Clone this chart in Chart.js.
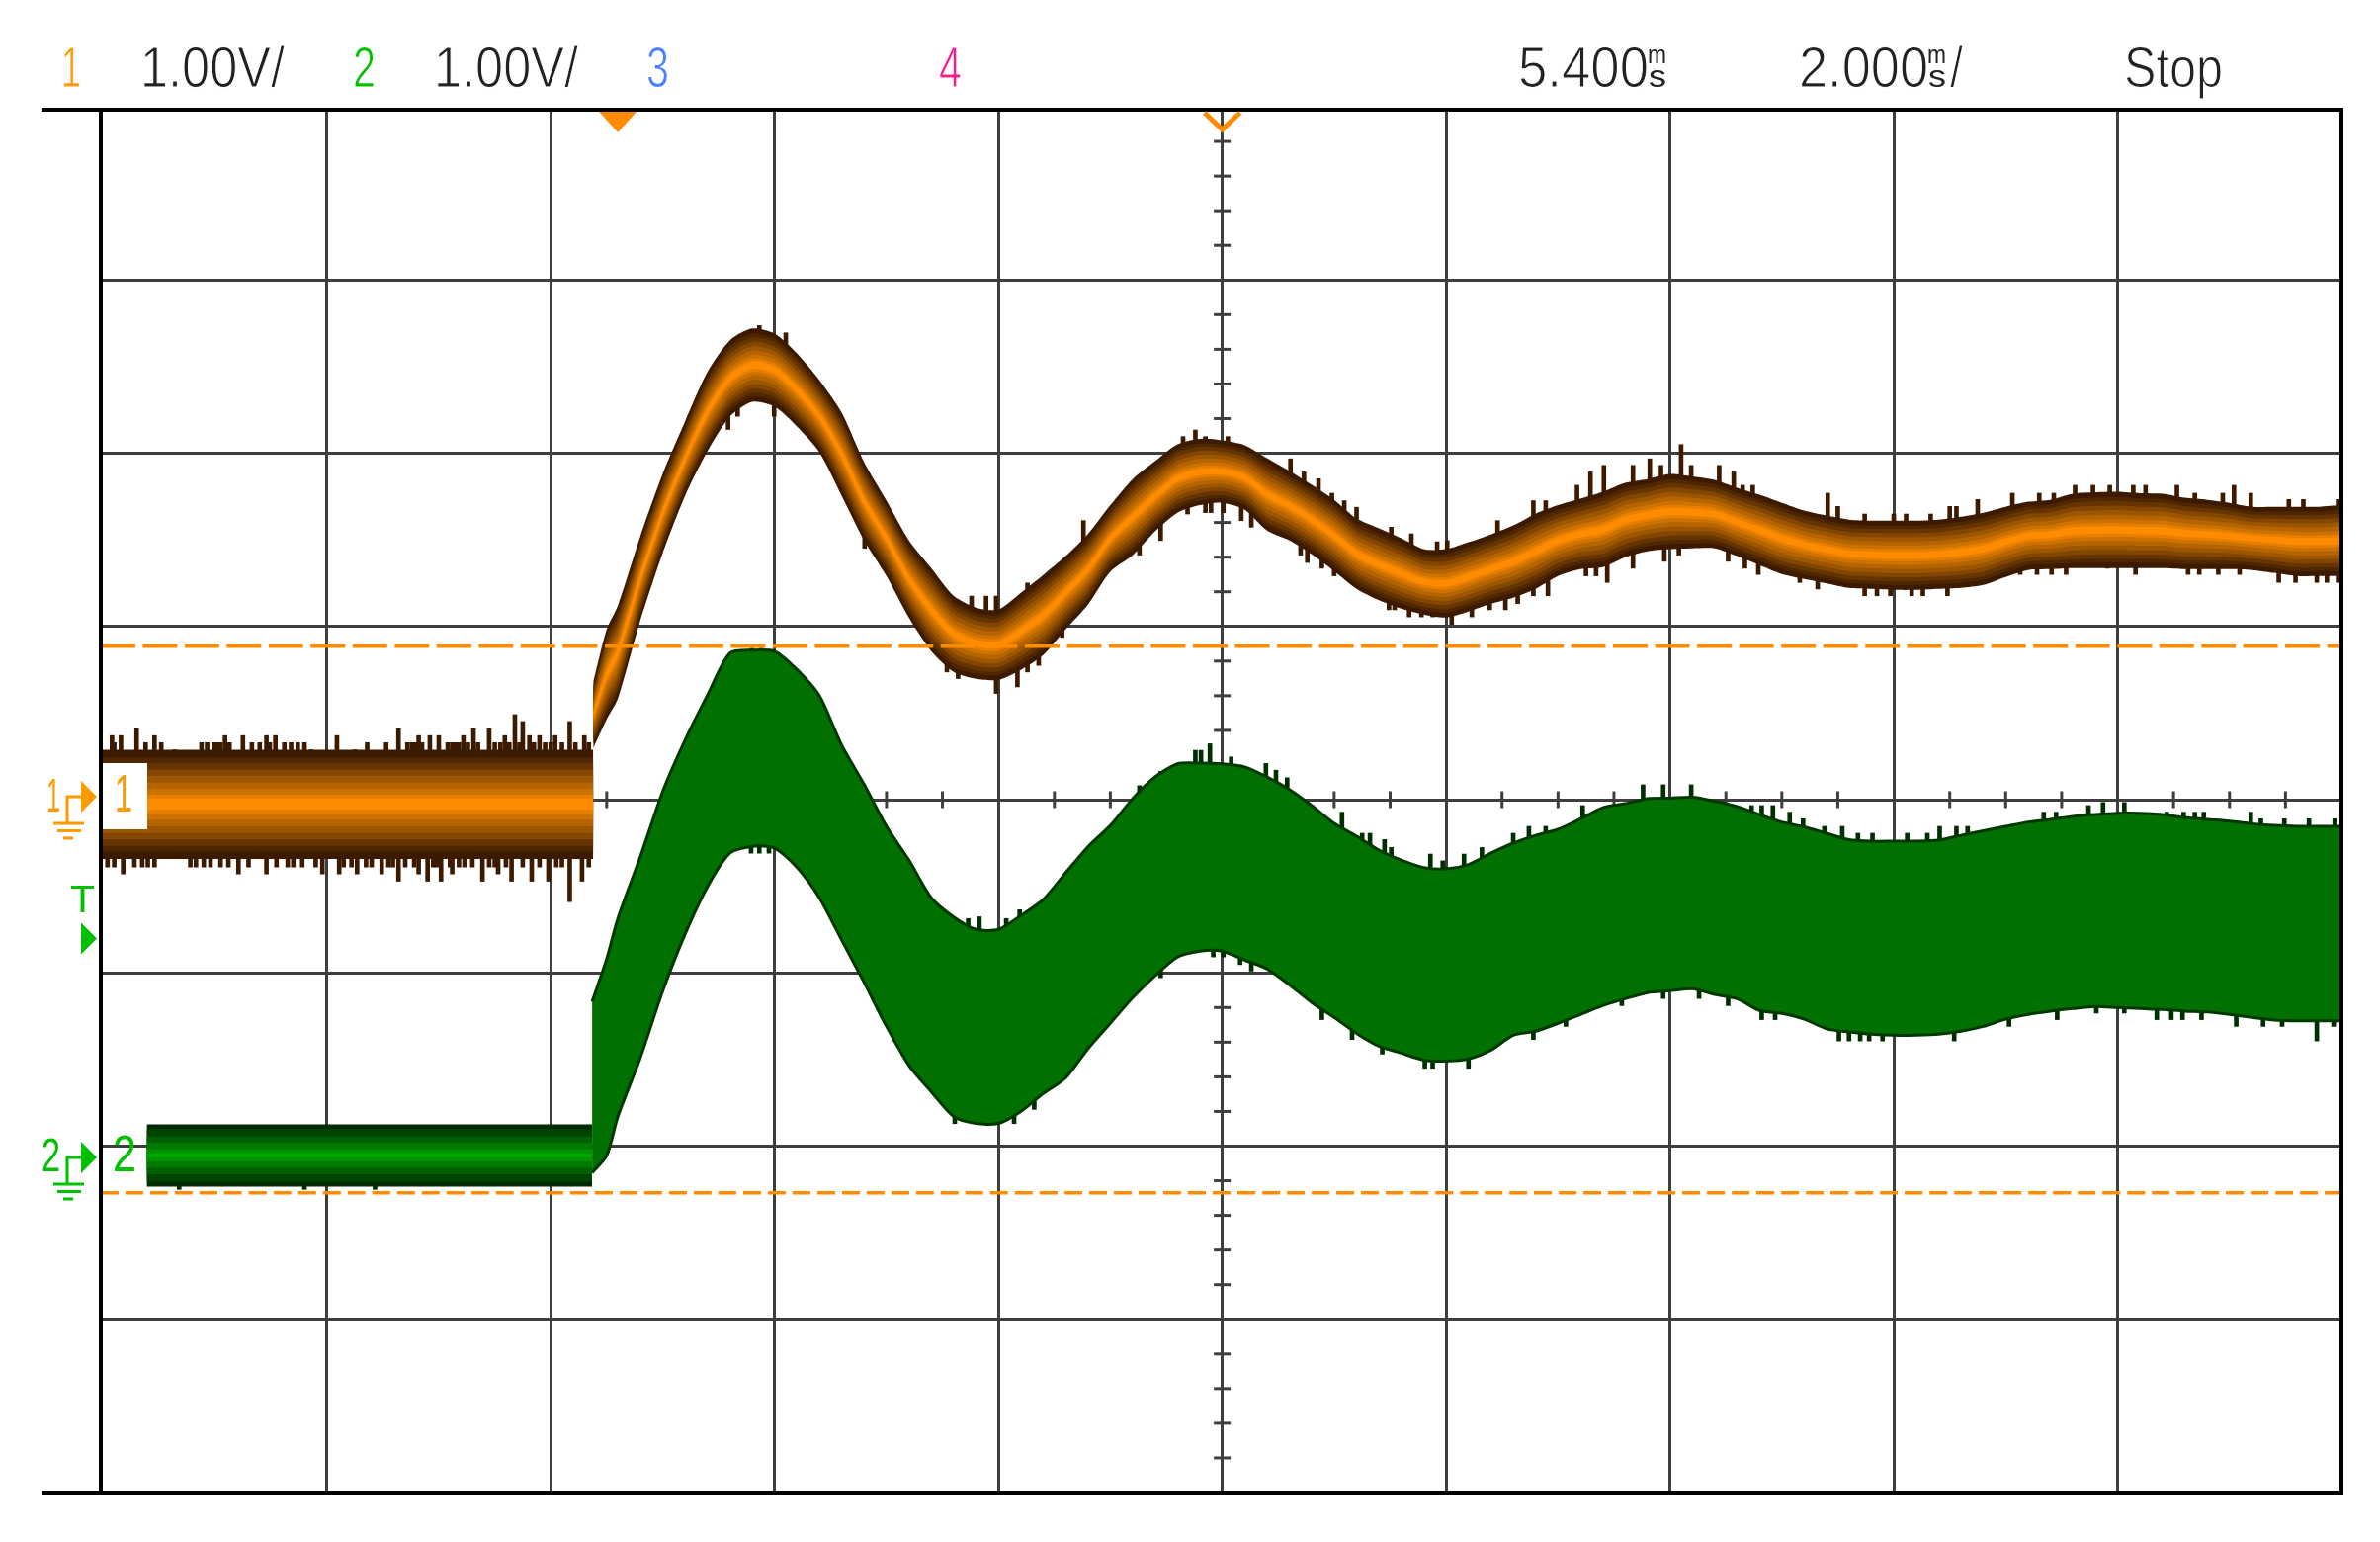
<!DOCTYPE html>
<html>
<head>
<meta charset="utf-8">
<title>Scope capture</title>
<script src="https://cdn.jsdelivr.net/npm/chart.js@4"></script>
<style>
  html, body { margin: 0; background: #fff; }
  canvas { display: block; }
</style>
</head>
<body>
<canvas id="scope" width="2408" height="1560"></canvas>
<script>
// time in ms (trigger at 0, 2 ms/div), level in V from screen centre (1 V/div)
// the frame cuts the first and last divisions a little short of a full one
const xTicks = [-4.62, -2.6, -0.6, 1.4, 3.4, 5.4, 7.4, 9.4, 11.4, 13.4, 15.4];
const yTicks = [-4, -3, -2, -1, 0, 1, 2, 3, 3.983];
const triggerTime = 0;
const delayTime = 5.4;
const cursorA = 0.886;
const cursorB = -2.269;

// channel 1 envelope, flat part before the step and the ringing after it
const ch1FlatTime = [-4.62,-0.22];
const ch1FlatTop = [0.288,0.288];
const ch1FlatBottom = [-0.343,-0.343];
const ch1Time = [-0.22,-0.1,0,0.2,0.4,0.6,0.8,1,1.2,1.4,1.6,1.8,2,2.2,2.4,2.6,2.8,3,3.2,3.4,3.6,3.8,4,4.2,4.4,4.6,4.8,5,5.2,5.4,5.6,5.8,6,6.2,6.4,6.6,6.8,7,7.2,7.4,7.6,7.8,8,8.2,8.4,8.6,8.8,9,9.2,9.4,9.6,9.8,10,10.2,10.4,10.6,10.8,11,11.2,11.4,11.6,11.8,12,12.2,12.4,12.6,12.8,13,13.2,13.4,13.6,13.8,14,14.2,14.4,14.6,14.8,15,15.2,15.4];
const ch1Top = [0.68,0.983,1.12,1.52,1.88,2.183,2.469,2.651,2.72,2.691,2.577,2.423,2.234,1.949,1.726,1.497,1.337,1.177,1.109,1.097,1.194,1.297,1.406,1.534,1.7,1.851,1.954,2.051,2.083,2.074,2.046,1.971,1.897,1.817,1.731,1.623,1.566,1.509,1.446,1.446,1.486,1.531,1.583,1.651,1.7,1.737,1.777,1.829,1.851,1.88,1.866,1.846,1.8,1.76,1.714,1.669,1.64,1.617,1.611,1.611,1.611,1.617,1.634,1.657,1.691,1.72,1.731,1.766,1.774,1.777,1.769,1.766,1.743,1.731,1.714,1.691,1.691,1.691,1.691,1.7];
const ch1Bottom = [0.297,0.463,0.583,1.034,1.423,1.754,2.011,2.211,2.297,2.269,2.154,2.006,1.754,1.497,1.291,1.051,0.857,0.737,0.697,0.691,0.749,0.834,0.983,1.126,1.317,1.411,1.549,1.657,1.7,1.714,1.674,1.554,1.497,1.417,1.32,1.217,1.151,1.103,1.069,1.051,1.086,1.131,1.166,1.217,1.291,1.331,1.343,1.4,1.434,1.446,1.451,1.451,1.406,1.354,1.303,1.274,1.249,1.223,1.217,1.211,1.211,1.217,1.223,1.24,1.286,1.326,1.331,1.337,1.337,1.337,1.337,1.337,1.331,1.331,1.331,1.326,1.309,1.291,1.291,1.291];

// channel 1 noise spikes above and below the band, flat part first
const ch1UpSpikeTime = [-4.52,-4.44,-4.3,-4.22,-4.14,-4.08,-3.96,-3.67,-3.61,-3.51,-3.35,-3.27,-3.14,-3.06,-2.92,-2.86,-2.74,-2.51,-2.35,-2.24,-2.07,-1.96,-1.88,-1.78,-1.68,-1.6,-1.52,-1.38,-1.29,-1.15,-1.01,-0.92,-0.85,-0.79,-0.7,-0.56,-0.43,-0.3,-4.5,-3.72,-3.58,-3.55,-3.47,-3.2,-3.11,-2.98,-2.8,-1.84,-1.81,-1.75,-1.48,-1.45,-1.42,-1.34,-1.25,-1.1,-1.05,-0.97,-0.88,-0.75,-0.65,-0.6,-0.5,-0.38,-0.26,1.264,1.5,3.16,3.29,3.38,3.66,4.16,5.05,5.16,5.25,5.45,6.01,6.13,6.26,6.38,6.49,6.6,6.91,7.09,7.32,7.41,7.86,8.18,8.29,8.57,8.69,8.81,9.07,9.22,9.32,9.5,9.59,9.84,9.97,10.05,10.14,10.81,10.9,11.14,11.4,11.51,11.73,11.9,11.96,12.15,12.46,12.7,12.83,13.02,13.18,13.33,13.54,13.65,13.93,14.09,14.34,14.44,14.59,14.93,15.06,15.37];
const ch1UpSpikeLevel = [0.37,0.37,0.411,0.329,0.37,0.329,0.288,0.329,0.329,0.37,0.37,0.329,0.37,0.37,0.329,0.329,0.288,0.37,0.288,0.329,0.329,0.411,0.329,0.37,0.37,0.37,0.329,0.37,0.411,0.411,0.37,0.491,0.451,0.37,0.37,0.37,0.451,0.37,0.329,0.329,0.329,0.329,0.329,0.329,0.329,0.329,0.329,0.329,0.329,0.329,0.329,0.329,0.329,0.329,0.329,0.329,0.329,0.329,0.329,0.329,0.329,0.329,0.329,0.329,0.329,2.737,2.695,1.175,1.175,1.175,1.251,1.611,2.096,2.134,2.096,2.096,1.968,1.892,1.853,1.769,1.726,1.688,1.573,1.535,1.489,1.496,1.611,1.726,1.726,1.815,1.892,1.93,1.93,1.968,1.93,2.05,1.93,1.93,1.892,1.815,1.815,1.769,1.693,1.649,1.649,1.649,1.649,1.693,1.693,1.733,1.769,1.769,1.769,1.815,1.815,1.815,1.815,1.815,1.815,1.769,1.769,1.815,1.769,1.733,1.733,1.733];
const ch1DownSpikeTime = [-4.56,-4.42,-4.32,-4.14,-3.7,-3.64,-3.55,-3.39,-3.14,-2.82,-2.64,-2.49,-2.33,-2.25,-2.11,-2.01,-1.96,-1.78,-1.7,-1.58,-1.48,-1.37,-1.21,-1.07,-0.95,-0.77,-0.62,-0.43,-0.32,-0.26,-4.5,-4.25,-4.2,-3.82,-3.77,-3.48,-3.3,-3.05,-2.95,-2.9,-2.7,-2.45,-2.38,-2.2,-2.05,-1.9,-1.82,-1.65,-1.62,-1.5,-1.42,-1.3,-1.15,-1.1,-1,-0.85,-0.7,-0.55,-0.5,0.985,1.07,1.396,2.205,2.94,3.04,3.38,3.57,3.66,3.76,3.97,4.66,4.85,5.09,5.25,5.3,5.41,5.57,5.66,6.1,6.16,6.29,6.4,6.89,6.94,7.07,7.18,7.28,7.45,7.63,7.79,7.93,8.04,8.18,8.31,8.65,8.74,8.84,9.07,9.35,9.48,9.92,10.07,10.19,10.56,10.72,11.14,11.25,11.37,11.56,11.66,11.88,12.53,12.68,12.81,12.94,13.31,13.56,14.03,14.13,14.3,14.49,14.84,14.99,15.18,15.27,15.37];
const ch1DownSpikeLevel = [-0.389,-0.429,-0.389,-0.389,-0.389,-0.389,-0.389,-0.429,-0.429,-0.389,-0.429,-0.429,-0.429,-0.389,-0.429,-0.389,-0.471,-0.429,-0.471,-0.471,-0.429,-0.389,-0.471,-0.429,-0.471,-0.471,-0.471,-0.589,-0.471,-0.389,-0.389,-0.389,-0.389,-0.389,-0.389,-0.389,-0.389,-0.389,-0.389,-0.389,-0.389,-0.389,-0.389,-0.389,-0.389,-0.389,-0.389,-0.389,-0.389,-0.389,-0.389,-0.389,-0.389,-0.389,-0.389,-0.389,-0.389,-0.389,-0.389,2.137,2.213,2.213,1.451,0.737,0.699,0.613,0.651,0.737,0.775,0.937,1.412,1.496,1.649,1.657,1.657,1.657,1.611,1.573,1.412,1.369,1.336,1.292,1.096,1.096,1.055,1.055,1.055,1.012,1.055,1.096,1.096,1.132,1.177,1.177,1.292,1.292,1.254,1.336,1.376,1.412,1.376,1.336,1.3,1.254,1.216,1.177,1.177,1.177,1.177,1.177,1.177,1.3,1.3,1.3,1.3,1.336,1.3,1.3,1.3,1.3,1.3,1.254,1.254,1.254,1.254,1.254];

// channel 2 envelope, same split
const ch2FlatTime = [-4.21,-0.23];
const ch2FlatTop = [-1.874,-1.874];
const ch2FlatBottom = [-2.234,-2.234];
const ch2Time = [-0.23,-0.1,0,0.2,0.4,0.6,0.8,1,1.2,1.4,1.6,1.8,2,2.2,2.4,2.6,2.8,3,3.2,3.4,3.6,3.8,4,4.2,4.4,4.6,4.8,5,5.2,5.4,5.6,5.8,6,6.2,6.4,6.6,6.8,7,7.2,7.4,7.6,7.8,8,8.2,8.4,8.6,8.8,9,9.2,9.4,9.6,9.8,10,10.2,10.4,10.6,10.8,11,11.2,11.4,11.6,11.8,12,12.2,12.4,12.6,12.8,13,13.2,13.4,13.6,13.8,14,14.2,14.4,14.6,14.8,15,15.2,15.4];
const ch2Top = [-1.166,-0.92,-0.686,-0.331,0.046,0.343,0.602,0.846,0.863,0.857,0.751,0.6,0.314,0.088,-0.154,-0.349,-0.566,-0.677,-0.749,-0.749,-0.669,-0.577,-0.423,-0.272,-0.149,0.006,0.131,0.207,0.211,0.207,0.189,0.131,0.059,-0.034,-0.137,-0.211,-0.291,-0.349,-0.392,-0.4,-0.374,-0.309,-0.251,-0.206,-0.171,-0.111,-0.046,-0.023,0.006,0.009,0.014,-0.009,-0.04,-0.086,-0.129,-0.157,-0.194,-0.231,-0.24,-0.24,-0.24,-0.234,-0.206,-0.18,-0.154,-0.129,-0.114,-0.097,-0.086,-0.078,-0.078,-0.086,-0.103,-0.114,-0.124,-0.139,-0.149,-0.154,-0.154,-0.154];
const ch2Bottom = [-2.154,-2.055,-1.829,-1.491,-1.106,-0.777,-0.503,-0.309,-0.269,-0.28,-0.391,-0.566,-0.811,-1.055,-1.309,-1.534,-1.686,-1.829,-1.869,-1.869,-1.8,-1.697,-1.606,-1.438,-1.291,-1.143,-1.017,-0.909,-0.874,-0.874,-0.926,-0.977,-1.069,-1.171,-1.257,-1.349,-1.423,-1.463,-1.503,-1.509,-1.497,-1.446,-1.36,-1.337,-1.291,-1.24,-1.189,-1.149,-1.114,-1.103,-1.091,-1.124,-1.149,-1.217,-1.234,-1.267,-1.323,-1.341,-1.354,-1.36,-1.359,-1.354,-1.337,-1.309,-1.267,-1.24,-1.221,-1.206,-1.194,-1.2,-1.206,-1.211,-1.221,-1.226,-1.24,-1.257,-1.272,-1.277,-1.277,-1.277];

// channel 2 noise spikes
const ch2UpSpikeTime = [1.07,1.2,1.28,3.13,3.23,3.47,3.59,4.66,4.85,5.16,5.21,5.29,5.48,5.79,5.88,5.98,6.47,6.65,6.72,6.85,6.91,7.26,7.37,7.56,7.72,8,8.14,8.29,8.62,9.16,9.34,9.59,10.13,10.22,10.32,10.47,10.59,10.78,10.94,11.08,11.21,11.52,11.7,11.81,11.96,12.06,12.74,12.85,13.14,13.27,13.46,13.84,13.99,14.09,14.17,14.59,14.68,14.89,15.11,15.34];
const ch2UpSpikeLevel = [0.864,0.874,0.874,-0.686,-0.676,-0.686,-0.635,0.081,0.163,0.285,0.285,0.323,0.247,0.209,0.17,0.127,-0.072,-0.194,-0.194,-0.23,-0.276,-0.314,-0.353,-0.314,-0.276,-0.194,-0.154,-0.154,-0.034,0.086,0.086,0.086,-0.034,-0.034,-0.034,-0.072,-0.11,-0.154,-0.154,-0.194,-0.194,-0.194,-0.194,-0.154,-0.154,-0.154,-0.072,-0.072,-0.034,-0.016,-0.016,-0.072,-0.072,-0.072,-0.072,-0.072,-0.11,-0.11,-0.11,-0.11];
const ch2DownSpikeTime = [-3.92,-2.8,-2.17,1.19,1.264,1.35,3.01,3.19,3.54,3.72,4.85,5.32,5.41,5.56,5.66,6.29,6.56,6.83,7.21,7.28,7.6,8.18,8.47,8.97,9.34,9.66,9.92,10.22,10.34,10.91,11,11.1,11.18,11.3,11.94,12.43,12.86,13.21,13.46,13.75,13.88,13.98,14.15,14.46,14.7,14.87,15.18,15.33];
const ch2DownSpikeLevel = [-2.25,-2.25,-2.25,-0.309,-0.309,-0.309,-1.87,-1.87,-1.87,-1.788,-1.028,-0.908,-0.908,-0.952,-0.99,-1.27,-1.385,-1.469,-1.551,-1.551,-1.551,-1.385,-1.309,-1.189,-1.148,-1.148,-1.189,-1.27,-1.27,-1.393,-1.393,-1.393,-1.393,-1.393,-1.393,-1.309,-1.27,-1.232,-1.232,-1.27,-1.27,-1.27,-1.27,-1.309,-1.309,-1.309,-1.393,-1.309];

// header readouts
const ch1Name = '1', ch2Name = '2', ch3Name = '3', ch4Name = '4';
const ch1Scale = '1.00V/', ch2Scale = '1.00V/';
const delayLabel = '5.400', sweepLabel = '2.000';
const runState = 'Stop';

const ORANGE = '#ff8c00', ORANGE_TXT = '#ff9a00', GREEN_TXT = '#00c000', GRID = '#3e3e3e', INK = '#222';
const FONT = '"Liberation Sans Narrow", "Liberation Sans", sans-serif';

// brightness steps of the persistence display, edge to centre
const ch1Shades = [[0, '#3c1a00'], [0.07, '#4e2600'], [0.12, '#663400'], [0.18, '#824600'], [0.24, '#9c5600'], [0.3, '#b56400'], [0.36, '#cc7200'], [0.41, '#e67e00'], [0.45, ORANGE]];
const ch2Shades = [[0, '#002a00'], [0.08, '#004400'], [0.2, '#006000'], [0.3, '#007a00'], [0.4, '#009400'], [0.47, '#00aa00']];

const datasets = [];

function line(xs, ys, extra) {
  return Object.assign({
    type: 'line', data: xs.map((x, i) => ({ x, y: ys[i] })),
    pointRadius: 0, borderWidth: 0, fill: false, tension: 0.25
  }, extra);
}

// one nested pair of outlines per shade, so the band fades from centre to edge
function addBand(xs, top, bottom, shades) {
  shades.forEach(([inset, color]) => {
    const up = top.map((v, i) => v + (bottom[i] - v) * inset);
    const down = top.map((v, i) => bottom[i] + (v - bottom[i]) * inset);
    datasets.push(line(xs, up, { fill: '+1', backgroundColor: color }));
    datasets.push(line(xs, down, {}));
  });
}

function addSpikes(times, levels, xs, top, bottom, color) {
  const data = times.map((t, i) => {
    let k = 0;
    xs.forEach((x, j) => { if (Math.abs(x - t) < Math.abs(xs[k] - t)) k = j; });
    return { x: t, y: [(top[k] + bottom[k]) / 2, levels[i]] };
  });
  datasets.push({ type: 'bar', data, backgroundColor: color, barThickness: 4, grouped: false, borderWidth: 0 });
}

// minor ticks along the centre lines
const minorX = [], minorY = [];
for (let k = 0; k <= 40; k++) if (k % 4) minorX.push(-4.6 + k * 0.5);
for (let k = -20; k <= 19; k++) if (k % 5) minorY.push(k * 0.2);
datasets.push(line(minorX, minorX.map(() => 0), {
  pointRadius: 8.5, pointStyle: 'line', pointRotation: 90, pointBorderWidth: 3, pointBorderColor: GRID, showLine: false
}));
datasets.push(line(minorY.map(() => delayTime), minorY, {
  pointRadius: 8.5, pointStyle: 'line', pointRotation: 0, pointBorderWidth: 3, pointBorderColor: GRID, showLine: false
}));

// the first spikes of each list sit on the flat part of the trace
const ch1FlatUp = 65, ch1FlatDown = 59, ch2FlatDown = 3;
addSpikes(ch1UpSpikeTime.slice(0, ch1FlatUp), ch1UpSpikeLevel.slice(0, ch1FlatUp), ch1FlatTime, ch1FlatTop, ch1FlatBottom, '#3c1a00');
addSpikes(ch1UpSpikeTime.slice(ch1FlatUp), ch1UpSpikeLevel.slice(ch1FlatUp), ch1Time, ch1Top, ch1Bottom, '#3c1a00');
addSpikes(ch1DownSpikeTime.slice(0, ch1FlatDown), ch1DownSpikeLevel.slice(0, ch1FlatDown), ch1FlatTime, ch1FlatTop, ch1FlatBottom, '#3c1a00');
addSpikes(ch1DownSpikeTime.slice(ch1FlatDown), ch1DownSpikeLevel.slice(ch1FlatDown), ch1Time, ch1Top, ch1Bottom, '#3c1a00');
addSpikes(ch2UpSpikeTime, ch2UpSpikeLevel, ch2Time, ch2Top, ch2Bottom, '#002e00');
addSpikes(ch2DownSpikeTime.slice(0, ch2FlatDown), ch2DownSpikeLevel.slice(0, ch2FlatDown), ch2FlatTime, ch2FlatTop, ch2FlatBottom, '#002e00');
addSpikes(ch2DownSpikeTime.slice(ch2FlatDown), ch2DownSpikeLevel.slice(ch2FlatDown), ch2Time, ch2Top, ch2Bottom, '#002e00');

addBand(ch1FlatTime, ch1FlatTop, ch1FlatBottom, ch1Shades);
addBand(ch1Time, ch1Top, ch1Bottom, ch1Shades);

// channel 2 body is almost saturated, only the flat part shows the fade
datasets.push(line(ch2Time, ch2Top, { fill: '+1', backgroundColor: '#007000', borderWidth: 3, borderColor: '#003800' }));
datasets.push(line(ch2Time, ch2Bottom, { borderWidth: 3, borderColor: '#003800' }));
addBand(ch2FlatTime, ch2FlatTop, ch2FlatBottom, ch2Shades);

// dashed cursors
datasets.push(line([xTicks[0], xTicks[10]], [cursorA, cursorA], { borderWidth: 3.5, borderColor: ORANGE, borderDash: [35, 7.5] }));
datasets.push(line([xTicks[0], xTicks[10]], [cursorB, cursorB], { borderWidth: 3.5, borderColor: ORANGE, borderDash: [18, 7] }));

// later datasets go on top
datasets.forEach((d, i) => { d.order = datasets.length - i; });

function fitText(ctx, txt, x, base, w, size, color, thin) {
  ctx.save();
  ctx.font = size + 'px ' + FONT;
  ctx.fillStyle = color;
  ctx.textBaseline = 'alphabetic';
  const m = ctx.measureText(txt).width;
  ctx.translate(x, base);
  ctx.scale(w / m, 1);
  ctx.fillText(txt, 0, 0);
  if (thin) {
    // the scope font has hairline strokes
    ctx.strokeStyle = '#fff';
    ctx.lineWidth = thin;
    ctx.strokeText(txt, 0, 0);
  }
  ctx.restore();
}

function groundMark(ctx, y, color) {
  ctx.strokeStyle = color;
  ctx.fillStyle = color;
  ctx.lineWidth = 3;
  ctx.beginPath();
  ctx.moveTo(82, y);
  ctx.lineTo(68, y);
  ctx.lineTo(68, y + 27);
  ctx.moveTo(54, y + 27); ctx.lineTo(85, y + 27);
  ctx.moveTo(58, y + 34.5); ctx.lineTo(82, y + 34.5);
  ctx.moveTo(64, y + 42); ctx.lineTo(74, y + 42);
  ctx.stroke();
  arrowMark(ctx, y, color);
}

function arrowMark(ctx, y, color) {
  ctx.fillStyle = color;
  ctx.beginPath();
  ctx.moveTo(82, y - 16);
  ctx.lineTo(98, y);
  ctx.lineTo(82, y + 16);
  ctx.closePath();
  ctx.fill();
}

const scopeDecor = {
  id: 'scopeDecor',
  afterDatasetsDraw(chart) {
    const { ctx, chartArea: a, scales } = chart;
    ctx.save();

    // white tag boxes that hide the traces at the left edge
    ctx.fillStyle = '#fff';
    ctx.fillRect(a.left, 772, 47, 67);
    fitText(ctx, ch1Name, 116, 821, 18, 54, ORANGE_TXT);
    fitText(ctx, ch2Name, 114, 1185, 24, 52, GREEN_TXT);

    // frame
    ctx.strokeStyle = '#000';
    ctx.lineWidth = 4;
    ctx.beginPath();
    ctx.moveTo(42, a.top); ctx.lineTo(a.right, a.top); ctx.lineTo(a.right, a.bottom); ctx.lineTo(42, a.bottom);
    ctx.moveTo(a.left, a.top); ctx.lineTo(a.left, a.bottom);
    ctx.stroke();

    // trigger position, filled, and delay reference, hollow
    const tx = scales.x.getPixelForValue(triggerTime);
    ctx.fillStyle = ORANGE;
    ctx.beginPath();
    ctx.moveTo(tx - 19, a.top + 2); ctx.lineTo(tx + 19, a.top + 2); ctx.lineTo(tx, a.top + 23);
    ctx.closePath();
    ctx.fill();
    const dx = scales.x.getPixelForValue(delayTime);
    ctx.strokeStyle = ORANGE;
    ctx.lineWidth = 5;
    ctx.beginPath();
    ctx.moveTo(dx - 18, a.top + 3); ctx.lineTo(dx, a.top + 20); ctx.lineTo(dx + 18, a.top + 3);
    ctx.stroke();

    // ground and trigger level marks in the left margin
    fitText(ctx, ch1Name, 47, 821, 14, 48, ORANGE_TXT);
    groundMark(ctx, 806, ORANGE_TXT);
    fitText(ctx, ch2Name, 42, 1185, 19, 48, GREEN_TXT);
    groundMark(ctx, 1171, GREEN_TXT);
    fitText(ctx, 'T', 71, 923, 25, 38, GREEN_TXT);
    arrowMark(ctx, 949.5, GREEN_TXT);

    // header
    fitText(ctx, ch1Name, 62, 88, 20, 58, ORANGE_TXT, 1);
    fitText(ctx, ch1Scale, 142, 88, 146, 58, INK, 1.2);
    fitText(ctx, ch2Name, 357, 88, 23, 58, GREEN_TXT, 1);
    fitText(ctx, ch2Scale, 439, 88, 146, 58, INK, 1.2);
    fitText(ctx, ch3Name, 654, 88, 23, 58, '#4a80ff', 1);
    fitText(ctx, ch4Name, 950, 88, 23, 58, '#ff1a8c', 1);
    fitText(ctx, delayLabel, 1536, 88, 132, 58, INK, 1.2);
    fitText(ctx, 'm', 1667, 64, 19, 26, INK);
    fitText(ctx, 's', 1668, 88, 18, 32, INK);
    fitText(ctx, sweepLabel, 1820, 88, 131, 58, INK, 1.2);
    fitText(ctx, 'm', 1950, 64, 19, 26, INK);
    fitText(ctx, 's', 1951, 88, 18, 32, INK);
    fitText(ctx, '/', 1973, 88, 13, 58, INK, 1.2);
    fitText(ctx, runState, 2149, 88, 100, 58, INK, 1.2);
    ctx.restore();
  }
};

new Chart(document.getElementById('scope'), {
  type: 'line',
  data: { datasets },
  plugins: [scopeDecor],
  options: {
    responsive: false,
    devicePixelRatio: 1,
    animation: false,
    events: [],
    layout: { padding: { left: 102, right: 39, top: 111, bottom: 50 } },
    plugins: { legend: { display: false }, tooltip: { enabled: false } },
    scales: {
      x: {
        type: 'linear', min: xTicks[0], max: xTicks[xTicks.length - 1], offset: false,
        afterBuildTicks: s => { s.ticks = xTicks.map(value => ({ value })); },
        ticks: { display: false },
        border: { display: false },
        grid: { color: GRID, lineWidth: 3, drawTicks: false, offset: false }
      },
      y: {
        type: 'linear', min: yTicks[0], max: yTicks[yTicks.length - 1],
        afterBuildTicks: s => { s.ticks = yTicks.map(value => ({ value })); },
        ticks: { display: false },
        border: { display: false },
        grid: { color: GRID, lineWidth: 3, drawTicks: false }
      }
    }
  }
});
</script>
</body>
</html>
